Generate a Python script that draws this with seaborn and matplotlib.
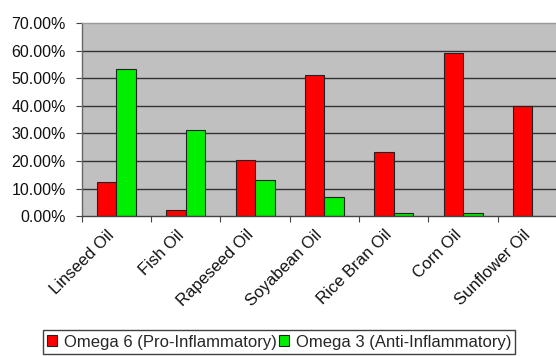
import matplotlib
matplotlib.use("Agg")
import matplotlib.pyplot as plt
import seaborn as sns
import pandas as pd
from matplotlib.patches import Patch
from matplotlib.ticker import FuncFormatter, FixedLocator

oils = ["Linseed Oil", "Fish Oil", "Rapeseed Oil", "Soyabean Oil",
        "Rice Bran Oil", "Corn Oil", "Sunflower Oil"]
omega6 = [12.4, 2.3, 20.3, 51.1, 23.4, 59.1, 40.0]
omega3 = [53.5, 31.2, 13.0, 7.0, 1.0, 1.0, 0.0]
series_names = ["Omega 6 (Pro-Inflammatory)", "Omega 3 (Anti-Inflammatory)"]
y_ticks = [0, 10, 20, 30, 40, 50, 60, 70]

colors = ["#ff0000", "#00ee00"]

df = pd.DataFrame({
    "oil": oils * 2,
    "value": omega6 + omega3,
    "series": [series_names[0]] * len(oils) + [series_names[1]] * len(oils),
})

sns.set_style("white")
plt.rcParams["font.family"] = ["Liberation Sans", "DejaVu Sans"]

fig = plt.figure(figsize=(5.56, 3.56), dpi=100)
ax = fig.add_axes([0.147, 0.393, 0.873, 0.542])
ax.set_facecolor("#c0c0c0")

sns.barplot(data=df, x="oil", y="value", hue="series", palette=colors,
            width=0.56, edgecolor="#222222", linewidth=0.8, ax=ax,
            legend=False, errorbar=None, saturation=1)

ax.set_ylim(0, 70)
ax.set_xlim(-0.5, len(oils) - 0.5)
ax.yaxis.set_major_locator(FixedLocator(y_ticks))
ax.yaxis.set_major_formatter(FuncFormatter(lambda v, p: f"{v:.2f}%"))
for t in y_ticks[1:-1]:
    ax.axhline(t, color="#333333", linewidth=1.0, zorder=0.5)

ax.set_xlabel("")
ax.set_ylabel("")
# label anchors slightly left of each category centre (as in the original)
ax.set_xticks([i - 0.14 for i in range(len(oils))])
ax.set_xticklabels(oils, rotation=45, ha="right", rotation_mode="anchor",
                   fontsize=12, color="#111111")
ax.set_xticks([i - 0.5 for i in range(len(oils) + 1)], minor=True)
ax.tick_params(axis="x", which="major", length=0, pad=8)
ax.tick_params(axis="x", which="minor", length=4, width=0.8, color="#444444",
               direction="out", bottom=True)
ax.tick_params(axis="y", which="major", length=4, width=0.8, color="#444444",
               labelsize=11.5, labelcolor="#111111", left=True, pad=7.5)

ax.spines["right"].set_visible(False)
ax.spines["top"].set_color("#999999")
ax.spines["top"].set_linewidth(1.0)
ax.spines["left"].set_color("#666666")
ax.spines["bottom"].set_color("#444444")
ax.spines["left"].set_linewidth(1.0)
ax.spines["bottom"].set_linewidth(1.0)

handles = [Patch(facecolor=c, edgecolor="#222222", linewidth=0.8) for c in colors]
leg = fig.legend(handles, series_names, loc="center",
                 bbox_to_anchor=(279 / 556, 1 - 342 / 356), ncol=2,
                 fontsize=12, frameon=True, fancybox=False,
                 handlelength=0.6, handleheight=0.6, handletextpad=0.4,
                 columnspacing=0.15, borderpad=0.25, borderaxespad=0)
leg.get_frame().set_edgecolor("#111111")
leg.get_frame().set_linewidth(1.0)

fig.savefig("out.png", dpi=100)
